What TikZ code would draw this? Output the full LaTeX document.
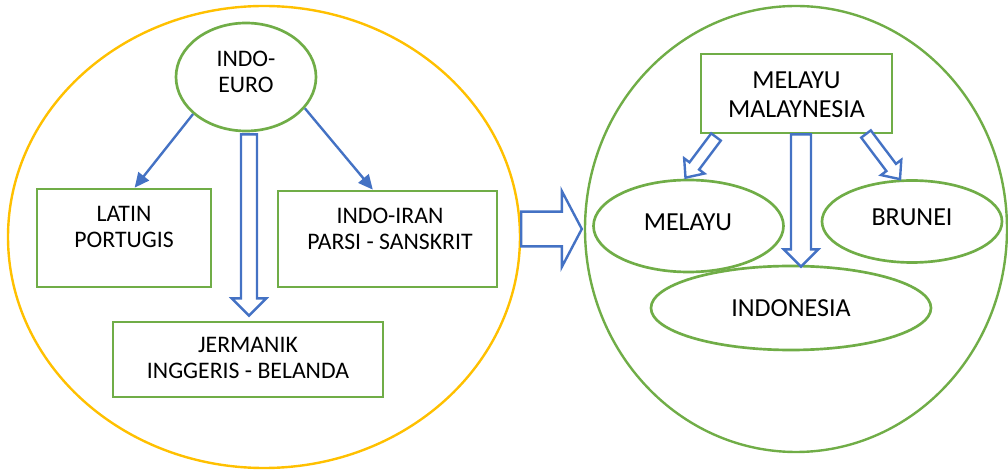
\documentclass[tikz,border=0pt]{standalone}
\usepackage{fontspec}
\setmainfont{Carlito}
\usetikzlibrary{shapes.geometric,arrows.meta,calc}
\definecolor{cgreen}{HTML}{70AD47}
\definecolor{cyellow}{HTML}{FFC000}
\definecolor{cblue}{HTML}{4472C4}
\newcommand\holarrow[5]{%
  \coordinate (hb) at ($(#2)!#5!(#1)$);
  \draw[holl] ($(#1)!#3!90:(#2)$) -- ($(hb)!#3!90:(#2)$) -- ($(hb)!#4!90:(#2)$) -- (#2)
    -- ($(hb)!#4!-90:(#2)$) -- ($(hb)!#3!-90:(#2)$) -- ($(#1)!#3!-90:(#2)$) -- cycle;}
\tikzset{
  bigell/.style={draw, ellipse, inner sep=0pt, line width=1.8pt},
  gell/.style={draw=cgreen, ellipse, inner sep=0pt, line width=2pt, fill=white},
  gbox/.style={draw=cgreen, rectangle, inner sep=0pt, line width=2pt, fill=white},
  ltxt/.style={align=center, font=\fontsize{17.8pt}{19pt}\selectfont, inner sep=0pt},
  rtxt/.style={align=center, font=\fontsize{19.5pt}{22pt}\selectfont, inner sep=0pt},
  holl/.style={draw=cblue, fill=white, line width=1.8pt, line join=miter},
  thin/.style={draw=cblue, line width=1.8pt, -{Triangle[length=11pt,width=10pt]}}
}
\begin{document}
\begin{tikzpicture}[x=0.75pt,y=-0.75pt]
\useasboundingbox (0,0) rectangle (1008,470);
% big ellipses
\node[bigell, draw=cyellow, minimum width={512*0.75pt}, minimum height={462*0.75pt}] (lbig) at (264,237) {};
\node[bigell, draw=cgreen, minimum width={422*0.75pt}, minimum height={446*0.75pt}] (rbig) at (796,229) {};
% left side
\node[gell, minimum width={140*0.75pt}, minimum height={108*0.75pt}] (euro) at (246,77) {};
\node[ltxt] (eurot) at (246,72) {INDO-\\EURO};
\node[gbox, minimum width={174*0.75pt}, minimum height={98*0.75pt}] (latin) at (124,238) {};
\node[ltxt] (latint) at (124,227) {LATIN\\PORTUGIS};
\node[gbox, minimum width={219*0.75pt}, minimum height={96*0.75pt}] (iran) at (387.5,239) {};
\node[ltxt] (irant) at (390,229) {INDO-IRAN\\PARSI - SANSKRIT};
\node[gbox, minimum width={270*0.75pt}, minimum height={75*0.75pt}] (jerm) at (248,359.5) {};
\node[ltxt] (jermt) at (248,358) {JERMANIK\\INGGERIS - BELANDA};
\draw[thin] (euro.-145) -- ([xshift=8pt]latin.north);
\draw[thin] (euro.-28) -- ([xshift=-11pt]iran.north);
\coordinate (d1s) at ($(euro.south)+(3,2)$);
\coordinate (d1e) at ($(jerm.north)+(1,-5)$);
\holarrow{d1s}{d1e}{6pt}{13pt}{13pt}
% big arrow
\coordinate (bas) at (lbig.east |- rbig.west);
\coordinate (bae) at ($(rbig.west)+(-2,0)$);
\holarrow{bas}{bae}{13pt}{28.5pt}{15pt}
% right side
\node[gbox, minimum width={191*0.75pt}, minimum height={79*0.75pt}] (mm) at (796.5,93.5) {};
\node[rtxt] (mmt) at (796.5,95) {MELAYU\\MALAYNESIA};
\node[gell, minimum width={280*0.75pt}, minimum height={84*0.75pt}] (indo) at (791,308) {};
\node[rtxt] (indot) at (791,308) {INDONESIA};
\coordinate (d2s) at ($(mm.south)+(4.5,0)$);
\coordinate (d2e) at ($(indo.north)+(10,2)$);
\holarrow{d2s}{d2e}{7.5pt}{13pt}{13pt}
\node[gell, minimum width={190*0.75pt}, minimum height={92*0.75pt}] (mel) at (688.5,226) {};
\node[rtxt] (melt) at (688,222) {MELAYU};
\node[gell, minimum width={180*0.75pt}, minimum height={82*0.75pt}] (bru) at (912,221.5) {};
\node[rtxt] (brut) at (912,217) {BRUNEI};
\coordinate (d3s) at (716,137);
\coordinate (d3e) at ($(mel.north)+(-3,-1)$);
\holarrow{d3s}{d3e}{4.5pt}{9.5pt}{11pt}
\coordinate (d4s) at (866,134);
\coordinate (d4e) at ($(bru.north)+(-12,0)$);
\holarrow{d4s}{d4e}{4.5pt}{9.5pt}{11pt}
\end{tikzpicture}
\end{document}
